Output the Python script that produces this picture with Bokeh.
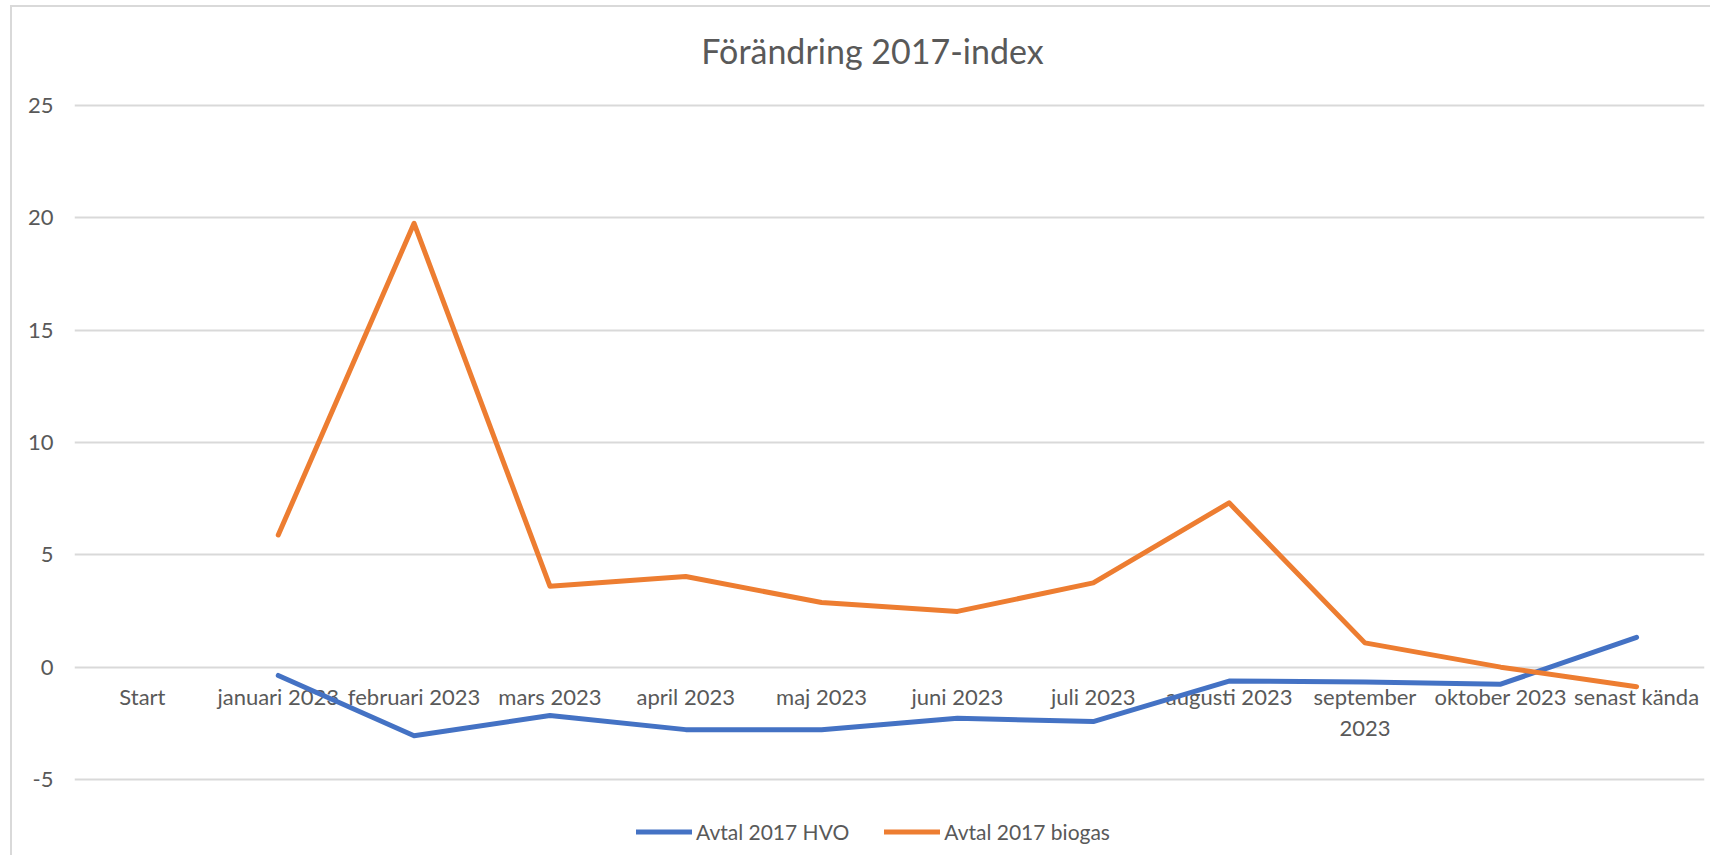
from bokeh.plotting import figure
from bokeh.models import (Range1d, FactorRange, FixedTicker, Label,
                          Legend, LegendItem, ColumnDataSource)
from bokeh.core.properties import value
from bokeh.embed import file_html
from bokeh.resources import INLINE

# ---- data ----
categories = ["Start", "januari 2023", "februari 2023", "mars 2023", "april 2023",
              "maj 2023", "juni 2023", "juli 2023", "augusti 2023",
              "september 2023", "oktober 2023", "senast kända"]
tick_labels = ["Start", "januari 2023", "februari 2023", "mars 2023", "april 2023",
               "maj 2023", "juni 2023", "juli 2023", "augusti 2023",
               "september\n2023", "oktober 2023", "senast kända"]
months = categories[1:]
hvo = [-0.37, -3.05, -2.15, -2.78, -2.78, -2.27, -2.42, -0.62, -0.66, -0.76, 1.33]
biogas = [5.88, 19.75, 3.6, 4.03, 2.88, 2.48, 3.75, 7.31, 1.08, 0.0, -0.87]
y_ticks = [-5, 0, 5, 10, 15, 20, 25]
y_tick_labels = ["-5", "0", "5", "10", "15", "20", "25"]
axis_cross = 0
series_names = ["Avtal 2017 HVO", "Avtal 2017 biogas"]
title_text = "Förändring 2017-index"

FONT = "Lato"
TXT = "#595959"
GRID = "#d9d9d9"

# the frame spans the whole chart area (title and legend sit inside it);
# gridlines/ticks are only drawn from -5 to 25
p = figure(width=1700, height=850, output_backend="svg", toolbar_location=None,
           x_range=FactorRange(*categories), y_range=Range1d(-8.38, 29.35),
           x_axis_location=None, min_border_left=62, min_border_right=8,
           min_border_top=0, min_border_bottom=2)
p.outline_line_color = None
p.background_fill_color = "white"
p.border_fill_color = "white"
p.styles = {"margin-left": "10px", "margin-top": "5px",
            "border-left": "2px solid #d9d9d9", "border-top": "2px solid #d9d9d9"}

# y axis
p.yaxis.ticker = FixedTicker(ticks=y_ticks)
p.yaxis.major_label_overrides = dict(zip(y_ticks, y_tick_labels))
p.yaxis.axis_line_color = None
p.yaxis.major_tick_line_color = None
p.yaxis.major_tick_out = 0
p.yaxis.major_tick_in = 0
p.yaxis.minor_tick_line_color = None
p.yaxis.minor_tick_out = 0
p.yaxis.major_label_text_font = FONT
p.yaxis.major_label_text_font_size = "22px"
p.yaxis.major_label_text_color = TXT
p.yaxis.major_label_standoff = 21
p.ygrid.ticker = FixedTicker(ticks=y_ticks)
p.ygrid.grid_line_color = GRID
p.ygrid.grid_line_width = 2
p.xgrid.grid_line_color = None

# category labels hanging below the 0 line (axis crosses at 0)
lab_src = ColumnDataSource(dict(x=categories, y=[axis_cross] * len(categories),
                                text=tick_labels))
p.text("x", "y", text="text", source=lab_src, y_offset=16,
       text_align="center", text_baseline="top", text_line_height=1.15,
       text_font=value(FONT), text_font_size="22px", text_color=TXT)

src = ColumnDataSource(dict(x=months, hvo=hvo, biogas=biogas))
r1 = p.line("x", "hvo", source=src, line_color="#4472C4", line_width=5,
            line_cap="round", line_join="round")
r2 = p.line("x", "biogas", source=src, line_color="#ED7D31", line_width=5,
            line_cap="round", line_join="round")

legend = Legend(items=[LegendItem(label=series_names[0], renderers=[r1]),
                       LegendItem(label=series_names[1], renderers=[r2])],
                orientation="horizontal", location=(562, 11),
                border_line_color=None, background_fill_alpha=0,
                padding=0, margin=0, spacing=35, label_standoff=4,
                glyph_width=56, glyph_height=25,
                label_text_font=FONT, label_text_font_size="21px",
                label_text_color=TXT)
p.add_layout(legend)

# chart title, in screen units relative to the plot frame (bottom-left origin)
title = Label(x=798, y=805, x_units="screen", y_units="screen",
              text=title_text, text_align="center", text_baseline="middle",
              text_font=FONT, text_font_size="34px", text_color=TXT)
p.add_layout(title)

open("out.html", "w").write(file_html(p, INLINE))
